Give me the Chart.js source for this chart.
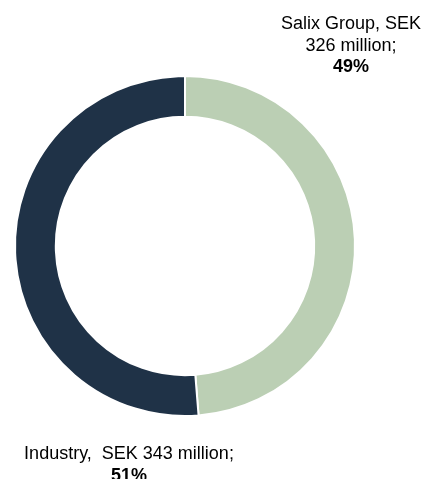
<!DOCTYPE html>
<html>
<head>
<meta charset="utf-8">
<script src="https://cdn.jsdelivr.net/npm/chart.js@4/dist/chart.umd.min.js"></script>
<style>
  body { margin: 0; background: #fff; }
  #wrap { width: 426px; height: 479px; }
</style>
</head>
<body>
<div id="wrap"><canvas id="chart" width="426" height="479"></canvas></div>
<script>
// data
const categories = ['Salix Group', 'Industry']
const valuesSEKm = [326, 343]
const shares = ['49%', '51%']
const colors = ['#bbcfb4', '#1f3247']

// label text lines (last line is bold)
const labelLines = [
  ['Salix Group, SEK', '326 million;', shares[0]],
  ['Industry,  SEK 343 million;', shares[1]]
]
// where each label sits (center x, first baseline y)
const labelPos = [
  { x: 351, y: 29 },
  { x: 129, y: 459 }
]

const labelPlugin = {
  id: 'outerLabels',
  afterDraw(chart) {
    const ctx = chart.ctx
    ctx.save()
    ctx.fillStyle = '#000'
    ctx.textAlign = 'center'
    ctx.textBaseline = 'alphabetic'
    labelLines.forEach(function(lines, i) {
      lines.forEach(function(txt, j) {
        const bold = j === lines.length - 1
        ctx.font = (bold ? 'bold ' : '') + "18px 'Liberation Sans', Arial, sans-serif"
        ctx.fillText(txt, labelPos[i].x, labelPos[i].y + j * 21.7)
      })
    })
    ctx.restore()
  }
}

new Chart(document.getElementById('chart'), {
  type: 'doughnut',
  data: {
    labels: categories,
    datasets: [{
      data: valuesSEKm,
      backgroundColor: colors,
      borderColor: '#ffffff',
      borderWidth: 2
    }]
  },
  options: {
    responsive: false,
    animation: false,
    cutout: '76%',
    layout: { padding: { left: 14, right: 70, top: 75, bottom: 62 } },
    plugins: {
      legend: { display: false },
      tooltip: { enabled: false }
    }
  },
  plugins: [labelPlugin]
})
</script>
</body>
</html>
